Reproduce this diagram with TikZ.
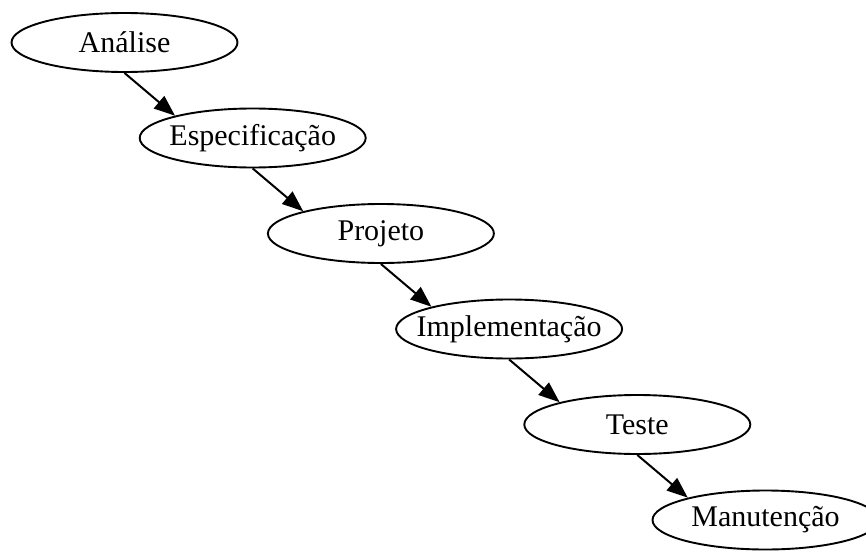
\documentclass[tikz,border=0pt]{standalone}
\usepackage{fontspec}
\setmainfont{Liberation Serif}
\usetikzlibrary{shapes.geometric,arrows.meta}
\newcommand{\stagetext}[1]{\makebox[0pt]{\raisebox{-2pt}{#1}}}
\begin{document}
\begin{tikzpicture}[x=1pt,y=-1pt,
  stage/.style={draw=black,line width=1.9pt,ellipse,minimum width=226pt,minimum height=59pt,inner sep=0pt,
    font=\fontsize{30}{36}\selectfont},
  edge/.style={draw=black,line width=2pt,-{Triangle[length=21pt,width=16pt]}}]
\useasboundingbox (0,0) rectangle (866,551);
\node[stage] (a) at (124.5,42.5) {\stagetext{Análise}};
\node[stage] (b) at (252.7,138) {\stagetext{Especificação}};
\node[stage] (c) at (380.9,233.5) {\stagetext{Projeto}};
\node[stage] (d) at (509.1,329) {\stagetext{Implementação}};
\node[stage] (e) at (637.3,424.5) {\stagetext{Teste}};
\node[stage] (f) at (765.5,520) {\stagetext{Manutenção}};
\draw[edge] (a.south) -- (b.164);
\draw[edge] (b.south) -- (c.164);
\draw[edge] (c.south) -- (d.164);
\draw[edge] (d.south) -- (e.164);
\draw[edge] (e.south) -- (f.164);
\end{tikzpicture}
\end{document}
